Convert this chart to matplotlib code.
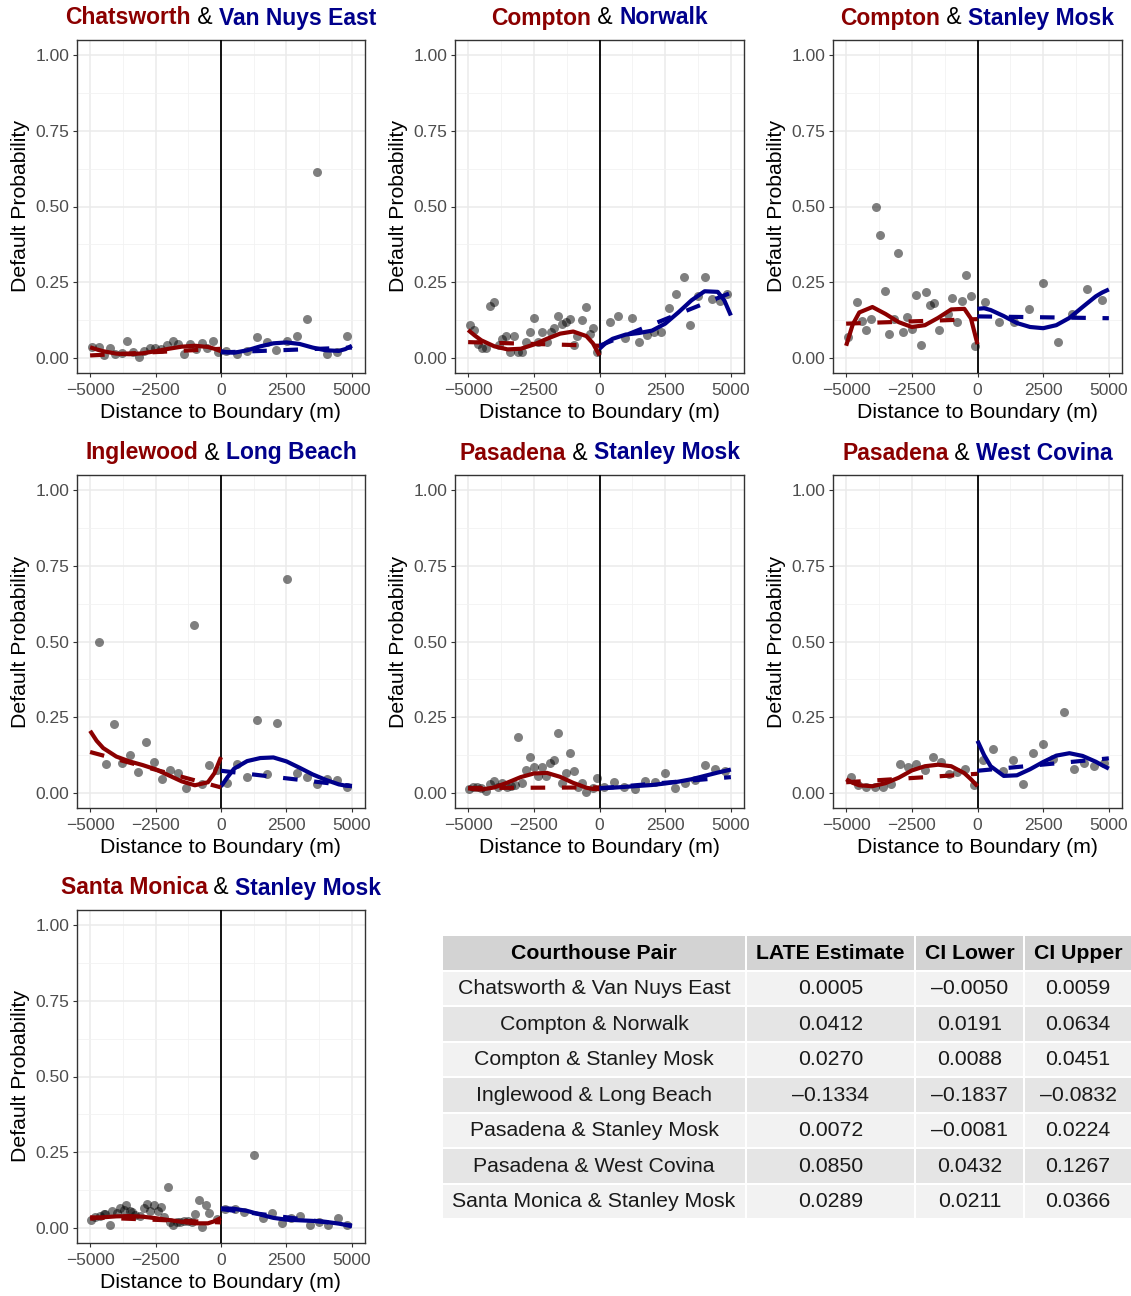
import numpy as np
import matplotlib
matplotlib.use("Agg")
import matplotlib.pyplot as plt
from matplotlib.patches import Rectangle
from matplotlib.ticker import FormatStrFormatter

plt.rcParams['font.family'] = ['Liberation Sans', 'DejaVu Sans']

RED = '#8B0000'
BLUE = '#00008B'

# ---------------- data ----------------
left_courts = ['Chatsworth', 'Compton', 'Compton', 'Inglewood', 'Pasadena', 'Pasadena', 'Santa Monica']
right_courts = ['Van Nuys East', 'Norwalk', 'Stanley Mosk', 'Long Beach', 'Stanley Mosk', 'West Covina', 'Stanley Mosk']

# binned default rates (distance in m, probability)
p1_x = [-4924, -4670, -4480, -4226, -4035, -3782, -3591, -3363, -3147, -2931, -2728, -2513, -2297, -2069,
        -1840, -1624, -1409, -1180, -952, -736, -520, -317, -101,
        190, 596, 977, 1358, 1739, 2119, 2525, 2906, 3287, 3667, 4048, 4429, 4822]
p1_y = [0.036, 0.036, 0.008, 0.031, 0.013, 0.017, 0.057, 0.019, 0.003, 0.024, 0.033, 0.033, 0.030, 0.044,
        0.055, 0.046, 0.014, 0.047, 0.028, 0.050, 0.033, 0.057, 0.019,
        0.022, 0.013, 0.022, 0.069, 0.053, 0.025, 0.055, 0.072, 0.127, 0.613, 0.014, 0.019, 0.072]

p2_x = [-4925, -4773, -4621, -4456, -4330, -4165, -4013, -3823, -3697, -3570, -3405, -3253, -3089, -2937,
        -2810, -2646, -2494, -2342, -2178, -2013, -1861, -1734, -1582, -1418, -1291, -1127, -975, -848,
        -684, -532, -367, -241, -89,
        418, 696, 962, 1241, 1519, 1810, 2089, 2355, 2633, 2912, 3203, 3456, 3735, 4026, 4279, 4570, 4849]
p2_y = [0.108, 0.093, 0.046, 0.032, 0.032, 0.171, 0.184, 0.043, 0.062, 0.073, 0.019, 0.073, 0.019, 0.021,
        0.053, 0.086, 0.133, 0.053, 0.086, 0.051, 0.086, 0.097, 0.139, 0.111, 0.117, 0.130, 0.043, 0.073,
        0.126, 0.168, 0.079, 0.100, 0.019,
        0.117, 0.139, 0.064, 0.133, 0.051, 0.075, 0.086, 0.086, 0.166, 0.210, 0.266, 0.108, 0.206, 0.267,
        0.195, 0.188, 0.210]

p3_x = [-4915, -4572, -4382, -4229, -4051, -3874, -3708, -3531, -3366, -3175, -3010, -2832, -2667, -2502,
        -2324, -2146, -1969, -1816, -1638, -1461, -1118, -953, -775, -597, -432, -254, -102,
        279, 826, 1372, 1943, 2502, 3048, 3594, 4153, 4724]
p3_y = [0.070, 0.183, 0.122, 0.093, 0.128, 0.500, 0.406, 0.222, 0.079, 0.129, 0.346, 0.084, 0.134, 0.095,
        0.207, 0.043, 0.216, 0.175, 0.181, 0.093, 0.145, 0.197, 0.118, 0.189, 0.274, 0.206, 0.040,
        0.183, 0.117, 0.119, 0.161, 0.247, 0.053, 0.145, 0.229, 0.192]

p4_x = [-4670, -4378, -4073, -3782, -3464, -3172, -2855, -2551, -2246, -1942, -1650, -1345, -1041, -736,
        -444, -140,
        216, 596, 977, 1371, 1751, 2132, 2513, 2906, 3287, 3667, 4048, 4442, 4822]
p4_y = [0.499, 0.096, 0.227, 0.100, 0.125, 0.069, 0.167, 0.101, 0.045, 0.074, 0.065, 0.017, 0.554, 0.028,
        0.092, 0.076,
        0.034, 0.096, 0.054, 0.240, 0.062, 0.232, 0.705, 0.065, 0.052, 0.030, 0.045, 0.043, 0.021]

p5_x = [-4963, -4798, -4646, -4494, -4330, -4165, -4013, -3849, -3697, -3532, -3380, -3228, -3102, -2962,
        -2798, -2646, -2494, -2342, -2203, -2038, -1899, -1734, -1595, -1443, -1291, -1139, -987, -836,
        -684, -532, -241, -89,
        190, 570, 950, 1342, 1734, 2114, 2507, 2886, 3266, 3646, 4026, 4406, 4785]
p5_y = [0.012, 0.021, 0.019, 0.015, 0.006, 0.029, 0.040, 0.019, 0.032, 0.021, 0.023, 0.026, 0.184, 0.034,
        0.074, 0.120, 0.087, 0.056, 0.087, 0.056, 0.100, 0.107, 0.197, 0.034, 0.067, 0.131, 0.073, 0.019,
        0.032, 0.004, 0.015, 0.048,
        0.019, 0.036, 0.019, 0.012, 0.040, 0.037, 0.065, 0.015, 0.032, 0.043, 0.092, 0.079, 0.073]

p6_x = [-4826, -4534, -4229, -3899, -3594, -3277, -2959, -2642, -2324, -2006, -1702, -1384, -1080, -775,
        -470, -152,
        191, 572, 953, 1334, 1740, 2121, 2502, 2883, 3277, 3670, 4064, 4445, 4826]
p6_y = [0.054, 0.026, 0.019, 0.021, 0.019, 0.029, 0.096, 0.084, 0.096, 0.076, 0.120, 0.102, 0.063, 0.070,
        0.079, 0.026,
        0.109, 0.144, 0.073, 0.109, 0.030, 0.133, 0.161, 0.113, 0.268, 0.079, 0.100, 0.089, 0.100]

p7_x = [-4962, -4797, -4632, -4480, -4416, -4251, -4162, -3972, -3870, -3718, -3617, -3490, -3401, -3274,
        -3084, -2957, -2830, -2703, -2576, -2424, -2297, -2170, -2043, -1942, -1815, -1688, -1561, -1409,
        -1244, -1117, -990, -838, -711, -584, -444, -165,
        152, 533, 876, 1256, 1612, 1967, 2322, 2678, 3033, 3388, 3744, 4099, 4454, 4810]
p7_y = [0.026, 0.035, 0.038, 0.046, 0.046, 0.010, 0.057, 0.049, 0.065, 0.059, 0.077, 0.057, 0.052, 0.043,
        0.038, 0.065, 0.079, 0.057, 0.077, 0.055, 0.070, 0.037, 0.134, 0.019, 0.008, 0.021, 0.019, 0.023,
        0.024, 0.021, 0.046, 0.093, 0.002, 0.076, 0.048, 0.030,
        0.063, 0.063, 0.054, 0.241, 0.032, 0.049, 0.015, 0.034, 0.038, 0.010, 0.021, 0.010, 0.032, 0.010]

# flexible fits evaluated on a common grid each side of the boundary
grid_left = [-5000, -4750, -4500, -4000, -3500, -3000, -2500, -2000, -1500, -1000, -500, -250, 0]
grid_right = [0, 250, 500, 1000, 1500, 2000, 2500, 3000, 3500, 4000, 4500, 4750, 5000]

p1_fit_l = [0.035, 0.028, 0.022, 0.014, 0.012, 0.015, 0.022, 0.030, 0.037, 0.040, 0.036, 0.030, 0.022]
p1_fit_r = [0.022, 0.018, 0.017, 0.025, 0.038, 0.048, 0.051, 0.046, 0.034, 0.025, 0.023, 0.029, 0.040]
p2_fit_l = [0.092, 0.074, 0.058, 0.038, 0.028, 0.030, 0.044, 0.063, 0.080, 0.087, 0.072, 0.048, 0.008]
p2_fit_r = [0.030, 0.050, 0.063, 0.077, 0.082, 0.090, 0.113, 0.150, 0.190, 0.220, 0.218, 0.190, 0.140]
p3_fit_l = [0.040, 0.110, 0.150, 0.168, 0.145, 0.118, 0.102, 0.108, 0.132, 0.160, 0.162, 0.130, 0.045]
p3_fit_r = [0.162, 0.164, 0.158, 0.138, 0.115, 0.102, 0.098, 0.108, 0.132, 0.168, 0.203, 0.216, 0.226]
p4_fit_l = [0.205, 0.172, 0.148, 0.120, 0.104, 0.092, 0.078, 0.058, 0.038, 0.025, 0.035, 0.065, 0.118]
p4_fit_r = [0.021, 0.052, 0.080, 0.105, 0.115, 0.117, 0.104, 0.083, 0.061, 0.043, 0.028, 0.024, 0.022]
p5_fit_l = [0.015, 0.012, 0.011, 0.018, 0.034, 0.052, 0.064, 0.066, 0.053, 0.033, 0.017, 0.013, 0.012]
p5_fit_r = [0.016, 0.016, 0.017, 0.020, 0.023, 0.026, 0.031, 0.037, 0.045, 0.056, 0.067, 0.072, 0.077]
p6_fit_l = [0.045, 0.033, 0.025, 0.022, 0.032, 0.050, 0.074, 0.088, 0.093, 0.088, 0.065, 0.045, 0.022]
p6_fit_r = [0.172, 0.125, 0.088, 0.056, 0.058, 0.078, 0.102, 0.123, 0.131, 0.122, 0.103, 0.091, 0.080]
p7_fit_l = [0.030, 0.033, 0.035, 0.038, 0.039, 0.037, 0.032, 0.026, 0.020, 0.015, 0.015, 0.022, 0.033]
p7_fit_r = [0.064, 0.064, 0.063, 0.056, 0.044, 0.033, 0.027, 0.025, 0.023, 0.020, 0.014, 0.010, 0.005]

# linear fits: value at the outer edge and at the boundary
p1_lin_l, p1_lin_r = [0.008, 0.030], [0.018, 0.034]
p2_lin_l, p2_lin_r = [0.052, 0.040], [0.040, 0.215]
p3_lin_l, p3_lin_r = [0.113, 0.128], [0.137, 0.131]
p4_lin_l, p4_lin_r = [0.135, 0.018], [0.073, 0.023]
p5_lin_l, p5_lin_r = [0.016, 0.018], [0.015, 0.052]
p6_lin_l, p6_lin_r = [0.035, 0.063], [0.073, 0.114]
p7_lin_l, p7_lin_r = [0.035, 0.018], [0.062, 0.008]

# LATE estimates
table_pairs = [f'{a} & {b}' for a, b in zip(left_courts, right_courts)]
late_est = [0.0005, 0.0412, 0.0270, -0.1334, 0.0072, 0.0850, 0.0289]
ci_lower = [-0.0050, 0.0191, 0.0088, -0.1837, -0.0081, 0.0432, 0.0211]
ci_upper = [0.0059, 0.0634, 0.0451, -0.0832, 0.0224, 0.1267, 0.0366]

panels = [
    (p1_x, p1_y, p1_fit_l, p1_fit_r, p1_lin_l, p1_lin_r),
    (p2_x, p2_y, p2_fit_l, p2_fit_r, p2_lin_l, p2_lin_r),
    (p3_x, p3_y, p3_fit_l, p3_fit_r, p3_lin_l, p3_lin_r),
    (p4_x, p4_y, p4_fit_l, p4_fit_r, p4_lin_l, p4_lin_r),
    (p5_x, p5_y, p5_fit_l, p5_fit_r, p5_lin_l, p5_lin_r),
    (p6_x, p6_y, p6_fit_l, p6_fit_r, p6_lin_l, p6_lin_r),
    (p7_x, p7_y, p7_fit_l, p7_fit_r, p7_lin_l, p7_lin_r),
]

# ---------------- figure ----------------
W, H = 1131, 1296
fig = plt.figure(figsize=(W / 100, H / 100), dpi=100)


def px_axes(x0, y0, x1, y1):
    return fig.add_axes([x0 / W, 1 - y1 / H, (x1 - x0) / W, (y1 - y0) / H])


col_px = [(77, 365), (455, 744), (833, 1122)]
row_px = [(40, 373), (475, 808), (910, 1243)]

overlay = fig.add_axes([0, 0, 1, 1], zorder=5)
overlay.set_xlim(0, W)
overlay.set_ylim(H, 0)
overlay.axis('off')

renderer = fig.canvas.get_renderer()


def draw_title(cx, cy, left, right):
    parts = [(left, RED, 'bold'), (' & ', 'black', 'normal'), (right, BLUE, 'bold')]
    texts = []
    for s, c, w in parts:
        t = overlay.text(0, cy, s, color=c, fontweight=w, fontsize=16.5, va='center', ha='left')
        texts.append(t)
    widths = [t.get_window_extent(renderer).width for t in texts]
    x = cx - sum(widths) / 2
    for t, w in zip(texts, widths):
        t.set_x(x)
        x += w


dash = (0, (3.5, 4.0))
for i, (px, py, fl, fr, ll, lr) in enumerate(panels):
    r, c = divmod(i, 3)
    x0, x1 = col_px[c]
    y0, y1 = row_px[r]
    ax = px_axes(x0, y0, x1, y1)
    ax.set_xlim(-5500, 5500)
    ax.set_ylim(-0.05, 1.05)
    ax.set_xticks([-5000, -2500, 0, 2500, 5000])
    ax.set_xticks([-3750, -1250, 1250, 3750], minor=True)
    ax.set_yticks([0, 0.25, 0.5, 0.75, 1.0])
    ax.set_yticks([0.125, 0.375, 0.625, 0.875], minor=True)
    ax.yaxis.set_major_formatter(FormatStrFormatter('%.2f'))
    ax.grid(which='major', color='#EBEBEB', lw=1.1)
    ax.grid(which='minor', color='#F2F2F2', lw=0.6)
    ax.set_axisbelow(True)
    for sp in ax.spines.values():
        sp.set_color('#333333')
        sp.set_linewidth(1.0)
    ax.tick_params(which='major', length=3, width=0.8, color='#333333',
                   labelsize=12.5, labelcolor='#4D4D4D', pad=2.5)
    ax.tick_params(axis='x', which='major', pad=4)
    ax.tick_params(which='minor', length=0)
    ax.set_xlabel('Distance to Boundary (m)', fontsize=15.3, labelpad=4)
    ax.set_ylabel('Default Probability', fontsize=15.3, labelpad=4)

    ax.scatter(px, py, s=42, color='black', alpha=0.5, linewidths=0, zorder=2)
    ax.axvline(0, color='black', lw=1.3, zorder=3)
    ax.plot(grid_left, fl, color=RED, lw=3.0, solid_capstyle='butt', zorder=4)
    ax.plot(grid_right, fr, color=BLUE, lw=3.0, solid_capstyle='butt', zorder=4)
    ax.plot([grid_left[0], grid_left[-1]], ll, color=RED, lw=3.0, ls=dash, zorder=4)
    ax.plot([grid_right[0], grid_right[-1]], lr, color=BLUE, lw=3.0, ls=dash, zorder=4)

    draw_title((x0 + x1) / 2, y0 - 22, left_courts[i], right_courts[i])

# ---------------- table ----------------
col_edges = [(443, 745), (747, 914), (916, 1023), (1025, 1131)]
header = ['Courthouse Pair', 'LATE Estimate', 'CI Lower', 'CI Upper']
head_top, head_bot = 936, 969.5
row_top0, row_pitch, row_h = 971.7, 35.5, 33.5


def fmt(v):
    return f'{v:.4f}'.replace('-', '\u2013')


for (a, b), h in zip(col_edges, header):
    overlay.add_patch(Rectangle((a, head_top), b - a, head_bot - head_top, color='#D3D3D3', lw=0))
    overlay.text((a + b) / 2, (head_top + head_bot) / 2 + 0.5, h, ha='center', va='center',
                 fontsize=15.3, fontweight='bold', color='black')

for j in range(len(table_pairs)):
    top = row_top0 + j * row_pitch
    bg = '#F2F2F2' if j % 2 == 0 else '#E5E5E5'
    cells = [table_pairs[j], fmt(late_est[j]), fmt(ci_lower[j]), fmt(ci_upper[j])]
    for (a, b), s in zip(col_edges, cells):
        overlay.add_patch(Rectangle((a, top), b - a, row_h, color=bg, lw=0))
        overlay.text((a + b) / 2, top + row_h / 2 + 0.5, s, ha='center', va='center',
                     fontsize=15.3, color='#1A1A1A')

fig.savefig('out.png', dpi=100)
